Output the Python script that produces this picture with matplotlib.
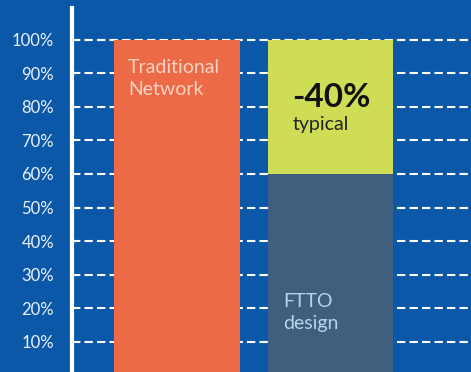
import matplotlib
matplotlib.use("Agg")
import matplotlib.pyplot as plt

# data
categories = ["Traditional\nNetwork", "FTTO\ndesign"]
base_values = [100, 60]
saving_values = [0, 40]
tick_values = [10, 20, 30, 40, 50, 60, 70, 80, 90, 100]
tick_labels = [f"{v}%" for v in tick_values]
saving_label = "-40%"
saving_note = "typical"

BG = "#0b58a9"
ORANGE = "#ed6a46"
SLATE = "#3e5f7e"
LIME = "#cedd55"

plt.rcParams["font.family"] = ["Lato", "DejaVu Sans"]

fig = plt.figure(figsize=(4.71, 3.72), dpi=100)
fig.patch.set_facecolor(BG)
ax = fig.add_axes([72 / 471, 0, 1 - 72 / 471, 1 - 8 / 372])
ax.set_facecolor(BG)

x = [0, 1]
ax.bar(x[0], base_values[0], width=0.82, color=ORANGE, zorder=3)
ax.bar(x[1], base_values[1], width=0.82, color=SLATE, zorder=3)
ax.bar(x[1], saving_values[1], bottom=base_values[1], width=0.82, color=LIME, zorder=3)

for v in tick_values:
    ax.axhline(v, color="white", lw=1.5, ls=(0, (4, 2)), zorder=1)

ax.set_xlim(-0.684, 1.915)
ax.set_ylim(1.07, 109.4)
ax.set_yticks(tick_values)
ax.set_yticklabels(tick_labels)
ax.set_xticks([])
ax.tick_params(axis="y", length=0, pad=13, labelsize=12, labelcolor="#eef3fa")

for side in ["top", "right", "bottom"]:
    ax.spines[side].set_visible(False)
ax.spines["left"].set_color("white")
ax.spines["left"].set_linewidth(3)

# labels inside bars
ax.text(x[0] - 0.32, 88.4, categories[0], color="#f8d2c2", fontsize=14,
        ha="left", va="center", linespacing=1.4, zorder=4)
ax.text(x[1] - 0.25, 82.9, saving_label, color="#111111", fontsize=24,
        fontweight="bold", ha="left", va="center", zorder=4)
ax.text(x[1] - 0.25, 74.6, saving_note, color="#222222", fontsize=14,
        ha="left", va="center", zorder=4)
ax.text(x[1] - 0.31, 18.8, categories[1], color="#b8d3ea", fontsize=14,
        ha="left", va="center", linespacing=1.4, zorder=4)

fig.savefig("out.png", dpi=100, facecolor=BG)
